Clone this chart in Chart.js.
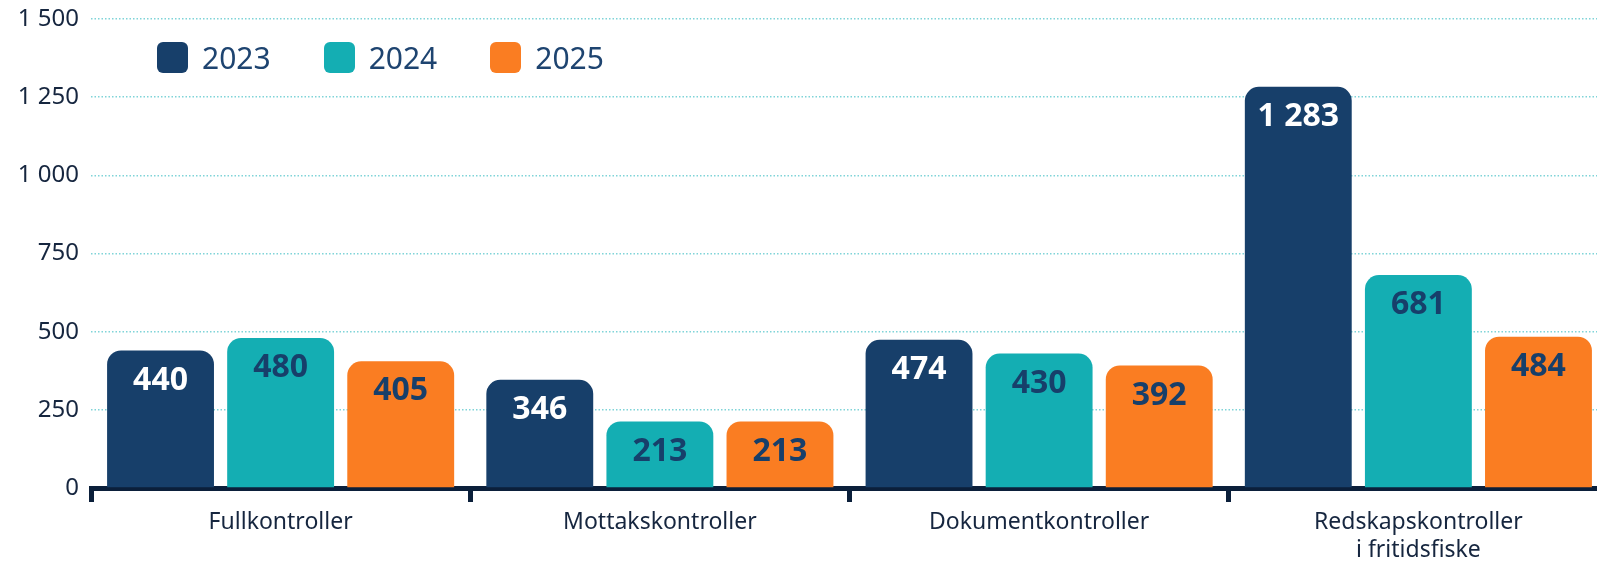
<!DOCTYPE html>
<html lang="no">
<head>
<meta charset="utf-8">
<title>Kontroller 2023–2025</title>
<script src="https://cdn.jsdelivr.net/npm/chart.js@4/dist/chart.umd.min.js"></script>
<style>
    html, body { margin: 0; padding: 0; background: #fff; overflow: hidden; }
    .wrap { position: relative; width: 1608px; height: 561px; }
    #controlChart { display: block; }
    #legend {
        position: absolute; left: 157px; top: 37px;
        display: flex; align-items: center; gap: 53px;
        font-family: "Noto Sans", sans-serif; font-size: 30px; color: #1e4470;
    }
    #legend .item { display: flex; align-items: center; gap: 14px; }
    #legend .box { width: 31px; height: 31px; border-radius: 6px; }
</style>
</head>
<body>
<div class="wrap">
    <canvas id="controlChart" width="1608" height="561"></canvas>
    <div id="legend"></div>
</div>
<script>
// ==================== Kontroller per år ====================

const categories = ['Fullkontroller', 'Mottakskontroller', 'Dokumentkontroller', ['Redskapskontroller', 'i fritidsfiske']];
const years = ['2023', '2024', '2025'];
const values2023 = [440, 346, 474, 1283];
const values2024 = [480, 213, 430, 681];
const values2025 = [405, 213, 392, 484];
const yTicks = [0, 250, 500, 750, 1000, 1250, 1500];

const barColors = ['#173f6a', '#14aeb3', '#fa7d22'];
const valueColors = ['#ffffff', '#173f6a', '#173f6a'];
const textColor = '#16263f';
const fontFamily = '"Noto Sans", sans-serif';

// 1 283 style grouping
function fmt(v) {
    return String(v).replace(/\B(?=(\d{3})+(?!\d))/g, ' ');
}

// value text inside the top of each bar
const barValues = {
    id: 'barValues',
    afterDatasetsDraw(chart) {
        const ctx = chart.ctx;
        ctx.save();
        ctx.font = `bold 32px ${fontFamily}`;
        ctx.textAlign = 'center';
        ctx.textBaseline = 'middle';
        chart.data.datasets.forEach((ds, i) => {
            const meta = chart.getDatasetMeta(i);
            ctx.fillStyle = valueColors[i];
            meta.data.forEach((bar, j) => {
                ctx.fillText(fmt(ds.data[j]), bar.x, bar.y + 30);
            });
        });
        ctx.restore();
    }
};

const seriesValues = [values2023, values2024, values2025];

const chart = new Chart(document.getElementById('controlChart'), {
    type: 'bar',
    data: {
        labels: categories,
        datasets: years.map((y, i) => ({
            label: y,
            data: seriesValues[i],
            backgroundColor: barColors[i],
            borderRadius: 14,
            borderSkipped: 'bottom',
            categoryPercentage: 0.95,
            barPercentage: 0.89
        }))
    },
    options: {
        responsive: false,
        animation: false,
        devicePixelRatio: 1,
        layout: { padding: { top: 19, right: 0, left: 0, bottom: 0 } },
        plugins: {
            legend: { display: false },
            tooltip: { enabled: false }
        },
        scales: {
            x: {
                afterFit: (axis) => { axis.height = 73; axis.paddingLeft = 0; axis.paddingRight = 0; },
                grid: {
                    offset: true,
                    drawOnChartArea: false,
                    drawTicks: true,
                    tickLength: 14,
                    tickWidth: 5,
                    tickColor: '#0b1f3a'
                },
                border: { display: true, color: '#0b1f3a', width: 5 },
                ticks: {
                    color: textColor,
                    font: { family: fontFamily, size: 23, lineHeight: 1.2 },
                    padding: 7,
                    maxRotation: 0,
                    autoSkip: false
                }
            },
            y: {
                min: 0,
                max: 1500,
                afterBuildTicks: (axis) => { axis.ticks = yTicks.map(v => ({ value: v })); },
                afterFit: (axis) => { axis.width = 91; axis.paddingTop = 0; axis.paddingBottom = 0; },
                grid: {
                    color: '#7fd4d8',
                    lineWidth: 1.5,
                    drawTicks: false
                },
                border: { display: false, dash: [1.5, 2] },
                ticks: {
                    color: textColor,
                    font: { family: fontFamily, size: 24 },
                    padding: 12,
                    callback: (v) => fmt(v)
                }
            }
        }
    },
    plugins: [barValues]
});

// legend built from the datasets
const legendEl = document.getElementById('legend');
legendEl.innerHTML = chart.data.datasets.map(ds => `
    <div class="item"><span class="box" style="background:${ds.backgroundColor};"></span><span>${ds.label}</span></div>
`).join('');
</script>
</body>
</html>
